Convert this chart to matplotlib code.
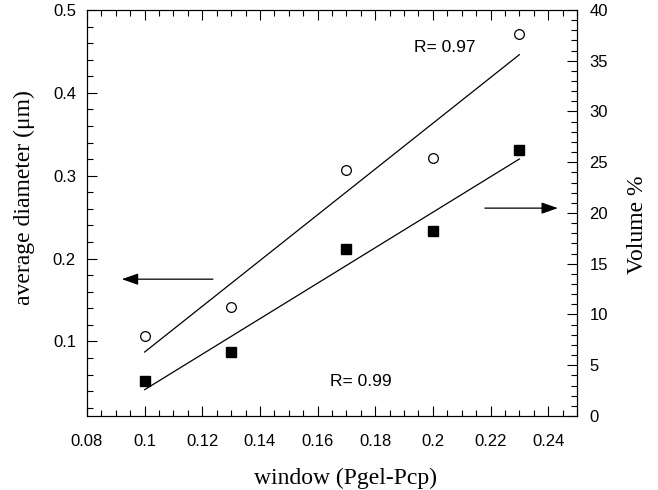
import numpy as np
import matplotlib
matplotlib.use("Agg")
import matplotlib.pyplot as plt
from matplotlib.ticker import MultipleLocator

# data
window = [0.10, 0.13, 0.17, 0.20, 0.23]
diameter = [0.107, 0.141, 0.307, 0.321, 0.471]   # left axis, circles
volume = [3.45, 6.3, 16.45, 18.26, 26.2]         # right axis, squares

xtick_vals = [0.08, 0.1, 0.12, 0.14, 0.16, 0.18, 0.2, 0.22, 0.24]
xtick_labels = ["0.08", "0.1", "0.12", "0.14", "0.16", "0.18", "0.2", "0.22", "0.24"]
ytick_vals = [0.1, 0.2, 0.3, 0.4, 0.5]
ytick_labels = ["0.1", "0.2", "0.3", "0.4", "0.5"]

sans = ["Liberation Sans", "DejaVu Sans"]
serif = ["Liberation Serif", "DejaVu Serif"]

fig = plt.figure(figsize=(6.58, 4.90), dpi=100)
ax = fig.add_axes([87 / 658, 1 - 416 / 490, 490 / 658, 406 / 490])
ax2 = ax.twinx()

# linear fits
xf = np.array([window[0], window[-1]])
pd_ = np.polyfit(window, diameter, 1)
pv = np.polyfit(window, volume, 1)

ax.plot(window, diameter, "o", mfc="white", mec="black", ms=7, mew=0.9)
ax.plot(xf, np.polyval(pd_, xf), color="black", lw=0.9)
ax2.plot(window, volume, "s", color="black", ms=7.5)
ax2.plot(xf, np.polyval(pv, xf), color="black", lw=0.9)

ax.set_xlim(0.08, 0.25)
ax.set_ylim(0.01, 0.5)
ax2.set_ylim(0, 40)

ax.xaxis.set_minor_locator(MultipleLocator(0.005))
ax.yaxis.set_minor_locator(MultipleLocator(0.02))
ax2.yaxis.set_major_locator(MultipleLocator(5))
ax2.yaxis.set_minor_locator(MultipleLocator(1))

ax.set_xticks(xtick_vals)
ax.set_xticklabels(xtick_labels)
ax.set_yticks(ytick_vals)
ax.set_yticklabels(ytick_labels)

ax.tick_params(axis="x", which="both", direction="in", top=True, labelsize=12, pad=13)
ax.tick_params(axis="y", which="both", direction="in", labelsize=12, pad=8)
ax.tick_params(which="major", length=7, width=0.8)
ax.tick_params(which="minor", length=4, width=0.8)
ax2.tick_params(which="both", direction="in", labelsize=12, pad=9)
ax2.tick_params(which="major", length=7, width=0.8)
ax2.tick_params(which="minor", length=4, width=0.8)

for a in (ax, ax2):
    for lab in a.get_xticklabels() + a.get_yticklabels():
        lab.set_family(sans)
    for s in a.spines.values():
        s.set_linewidth(0.8)

ax.set_xlabel("window (Pgel-Pcp)", family=serif, fontsize=17)
ax.set_ylabel("average diameter (\u03bcm)", family=serif, fontsize=17)
ax2.set_ylabel("Volume %", family=serif, fontsize=17)
ax.xaxis.set_label_coords(0.527, -0.128)
ax.yaxis.set_label_coords(-0.106, 0.537)
ax2.yaxis.set_label_coords(1.102, 0.47)

ax.text(0.73, 0.908, "R= 0.97", transform=ax.transAxes, ha="center", va="center",
        family=sans, fontsize=12.5)
ax.text(0.559, 0.084, "R= 0.99", transform=ax.transAxes, ha="center", va="center",
        family=sans, fontsize=12.5)

arrow = dict(arrowstyle="-|>,head_length=1.0,head_width=0.35", color="black", lw=0.9,
             shrinkA=0, shrinkB=0)
ax.annotate("", xy=(0.071, 0.337), xytext=(0.257, 0.337), xycoords="axes fraction",
            textcoords="axes fraction", arrowprops=arrow)
ax.annotate("", xy=(0.961, 0.512), xytext=(0.812, 0.512), xycoords="axes fraction",
            textcoords="axes fraction", arrowprops=arrow)

fig.savefig("out.png", dpi=100)
